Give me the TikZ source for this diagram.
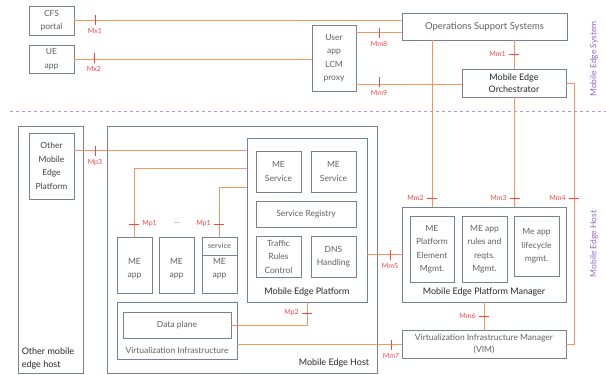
\documentclass[tikz,border=0pt]{standalone}
\usepackage{fontspec}
\setmainfont{Lato}
\usetikzlibrary{positioning}

\definecolor{wire}{RGB}{243,150,95}
\definecolor{tickred}{RGB}{245,70,70}
\definecolor{boxgrey}{RGB}{120,130,145}
\definecolor{boxblue}{RGB}{105,130,175}
\definecolor{txtgrey}{RGB}{95,95,95}
\definecolor{edgepurple}{RGB}{150,100,200}

\begin{document}
\begin{tikzpicture}[x=1pt, y=-1pt,
  box/.style={draw=boxgrey, line width=0.8pt, inner sep=0pt, align=center,
    text=txtgrey, font=\fontsize{8.5}{13.5}\selectfont},
  bluebox/.style={box, draw=boxblue},
  sz/.style 2 args={minimum width=#1pt, minimum height=#2pt},
  title/.style={inner sep=0pt, text=black!85, font=\fontsize{9}{13}\selectfont},
  link/.style={draw=wire, line width=0.8pt},
  tick/.style={draw=tickred, line width=0.6pt},
  lbl/.style={inner sep=0pt, text=tickred, font=\fontsize{7}{8}\selectfont},
  side/.style={rotate=90, inner sep=0pt, text=edgepurple, font=\fontsize{8.5}{9}\selectfont}]

\useasboundingbox (0,0) rectangle (606,375);

% Mobile Edge System level
\node[box, sz={45}{29}] (cfs) at (51.5,20.5) {CFS\\portal};
\node[box, sz={45}{28}] (ue) at (51.5,59) {UE\\app};
\node[box, sz={44}{66}] (proxy) at (334,58) {User\\app\\LCM\\proxy};
\node[box, sz={165}{27}, font=\fontsize{9.5}{10}\selectfont] (oss) at (484.5,26.5) {Operations Support Systems};
\node[box, sz={104}{28}, text=black!85, font=\fontsize{9}{11.5}\selectfont] (meo) at (514,83) {Mobile Edge\\Orchestrator};

% separation
\draw[edgepurple!70, dashed, line width=0.6pt] (10,111) -- (606,111);
\node[side] (mes) at (594,59) {Mobile Edge System};
\node[side] (meh) at (594,244) {Mobile Edge Host};

% Other mobile edge host
\node[box, sz={65}{247}] (ohost) at (50.5,249.5) {};
\node[title, align=left, anchor=south west] (ohost-l) at ([xshift=4pt, yshift=4pt]ohost.south west) {Other mobile\\edge host};
\node[box, sz={45}{66}, text=black!75] (omep) at (51.5,166) {Other\\Mobile\\Edge\\Platform};

% Mobile Edge Host
\node[box, sz={270}{247}] (mehost) at (242,249.5) {};
\node[title, anchor=south east] (mehost-l) at ([xshift=-8pt, yshift=6pt]mehost.south east) {Mobile Edge Host};

\node[bluebox, sz={120}{164}] (mep) at (307,220) {};
\node[title, anchor=south] (mep-l) at ([yshift=6pt]mep.south) {Mobile Edge Platform};
\node[box, sz={45}{41}] (svc1) at (278.5,171.5) {ME\\Service};
\node[box, sz={45}{41}] (svc2) at (333.5,171.5) {ME\\Service};
\node[box, sz={100}{26}] (reg) at (306,214) {Service Registry};
\node[box, sz={45}{41}] (trc) at (278.5,256.5) {Traffic\\Rules\\Control};
\node[box, sz={45}{41}] (dns) at (333.5,256.5) {DNS\\Handling};

\node[box, sz={35}{56}] (app1) at (134.5,265) {\\ME\\app};
\node[box, sz={35}{56}] (app2) at (176.5,265) {\\ME\\app};
\node[box, sz={35}{56}] (app3) at (219.5,265) {\\ME\\app};
\node[box, sz={35}{18}, font=\fontsize{7.5}{8}\selectfont] (svcb) at (219.5,246) {service};

\node[bluebox, sz={120}{57}] (vi) at (177,330.5) {};
\node[box, inner sep=0pt, draw=none, anchor=south] (vi-l) at ([yshift=5pt]vi.south) {Virtualization Infrastructure};
\node[box, sz={108}{26}] (dp) at (177,325) {Data plane};

% Mobile Edge Platform Manager and VIM
\node[box, sz={164}{95}] (mepm) at (484,254.5) {};
\node[title, anchor=south] (mepm-l) at ([yshift=6pt]mepm.south) {Mobile Edge Platform Manager};
\node[box, sz={44}{66}] (pem) at (432,249) {ME\\Platform\\Element\\Mgmt.};
\node[box, sz={45}{66}] (arm) at (484.5,249) {ME app\\rules and\\reqts.\\Mgmt.};
\node[box, sz={45}{60}] (lcm) at (536.5,246) {Me app\\lifecycle\\mgmt.};
\node[box, sz={164}{28}, font=\fontsize{8.5}{12}\selectfont] (vim) at (484,344) {Virtualization Infrastructure Manager\\(VIM)};

% reference points
\draw[link] (cfs.east) -- (cfs.east -| oss.west);
\draw[link] (ue.east) -- (ue.east -| proxy.west);
\draw[link] ([yshift=-8pt]proxy.north east) -- ([yshift=-8pt]proxy.north east -| oss.west);
\draw[link] ([yshift=-1pt]meo.west -| proxy.east) -- ([yshift=-1pt]meo.west);
\draw[link] (oss.south -| meo.north) -- (meo.north);
\draw[link] (pem.north |- oss.south) -- (pem.north |- mepm.north);
\draw[link] (meo.south) -- (meo.south |- mepm.north);
\draw[link] (meo.east) -- ++(8,0) |- (vim.east);
\draw[link] ([yshift=-18pt]omep.north east) -- ([yshift=-18pt]omep.north east -| mep.west);
\draw[link] (app1.north) |- ([yshift=-31pt]mep.north west);
\draw[link] (svcb.north) |- ([yshift=-50pt]mep.north west);
\draw[link] (dp.east) -| (mep.south);
\draw[link] (mep.east |- mepm.west) -- (mepm.west);
\draw[link] (vim.west -| vi.east) -- (vim.west);
\draw[link] (mepm.south) -- (vim.north);

% ticks and labels
\draw[tick] (95,15) -- (95,25) node[lbl, below=3pt] (mx1) {Mx1};
\draw[tick] (94,53) -- (94,63) node[lbl, below=3pt] (mx2) {Mx2};
\draw[tick] (379,28) -- (379,38) node[lbl, below=3pt] (mm8) {Mm8};
\draw[tick] (379,77) -- (379,87) node[lbl, below=3pt] (mm9) {Mm9};
\draw[tick] (519,54) -- (509,54) node[lbl, left=3pt] (mm1) {Mm1};
\draw[tick] (95,146) -- (95,156) node[lbl, below=3pt] (mp3) {Mp3};
\draw[tick] (129,224) -- (139,224) node[lbl, right=3pt] (mp1a) {Mp1};
\node[lbl, text=txtgrey] (dots) at (177,223) {...};
\draw[tick] (224,224) -- (214,224) node[lbl, left=3pt] (mp1b) {Mp1};
\draw[tick] (312,313) -- (302,313) node[lbl, left=3pt] (mp2) {Mp2};
\draw[tick] (390,250) -- (390,260) node[lbl, below=3pt] (mm5) {Mm5};
\draw[tick] (391,340) -- (391,350) node[lbl, below=3pt] (mm7) {Mm7};
\draw[tick] (437,198) -- (427,198) node[lbl, left=3pt] (mm2) {Mm2};
\draw[tick] (520,198) -- (510,198) node[lbl, left=3pt] (mm3) {Mm3};
\draw[tick] (579,198) -- (569,198) node[lbl, left=3pt] (mm4) {Mm4};
\draw[tick] (489,316) -- (479,316) node[lbl, left=3pt] (mm6) {Mm6};

\end{tikzpicture}
\end{document}
